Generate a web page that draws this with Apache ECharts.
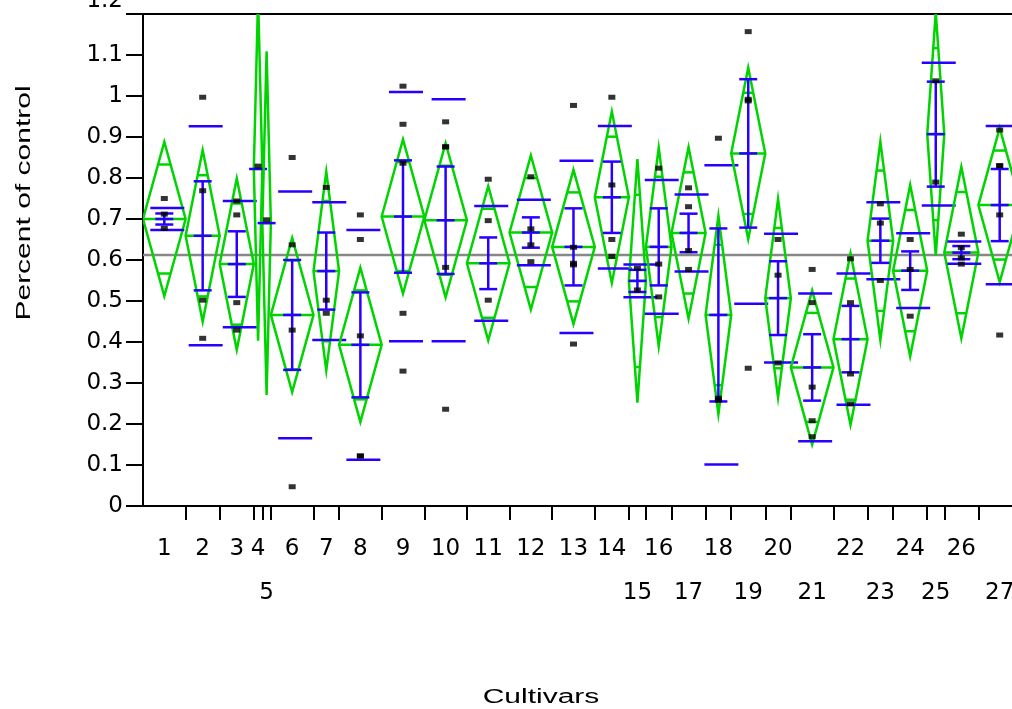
<!DOCTYPE html>
<html>
<head>
<meta charset="UTF-8">
<title>Cultivars</title>
<style>
    html,body{margin:0;padding:0;background:#fff;}
    #chart{width:1012px;height:709px;}
</style>
</head>
<body>
<div id="chart"></div>
<script src="https://cdn.jsdelivr.net/npm/echarts@6/dist/echarts.min.js"></script>
<script>
    // data
    const cultivars = ['1','2','3','4','5','6','7','8','9','10','11','12','13','14','15','16','17','18','19','20','21','22','23','24','25','26','27'];
    const counts = [5,4,4,1,1,5,3,5,5,5,5,5,5,4,2,3,4,3,4,3,5,4,3,4,2,4,5];
    const means = [0.700,0.659,0.590,0.822,0.690,0.466,0.573,0.393,0.706,0.697,0.592,0.667,0.632,0.753,0.549,0.632,0.666,0.466,0.860,0.507,0.338,0.407,0.647,0.574,0.907,0.618,0.734];
    const ciHalf = [0.188,0.209,0.209,0.419,0.419,0.188,0.242,0.188,0.188,0.188,0.188,0.188,0.188,0.209,0.297,0.242,0.209,0.242,0.209,0.242,0.188,0.209,0.242,0.209,0.297,0.209,0.188];
    const sdHalf = [0.027,0.267,0.154,null,null,0.301,0.168,0.280,0.304,0.295,0.140,0.080,0.210,0.174,0.040,0.163,0.094,0.365,0.367,0.157,0.180,0.160,0.094,0.091,0.174,0.027,0.193];
    const seHalf = [0.0135,0.133,0.080,null,null,0.134,0.094,0.128,0.137,0.131,0.063,0.037,0.094,0.087,0.027,0.094,0.047,0.211,0.181,0.090,0.081,0.081,0.054,0.047,0.128,0.016,0.088];
    const points = [
        [0.750,0.712,0.677],
        [0.997,0.769,0.502,0.409],
        [0.744,0.710,0.496,0.429],
        [0.829],
        [0.698],
        [0.850,0.637,0.429,0.047],
        [0.777,0.502,0.470],
        [0.710,0.650,0.415,0.122,0.122],
        [1.024,0.931,0.836,0.470,0.329],
        [0.937,0.876,0.876,0.582,0.236],
        [0.797,0.696,0.502],
        [0.803,0.676,0.637,0.596],
        [0.977,0.631,0.592,0.588,0.395],
        [0.997,0.783,0.650,0.609],
        [0.580,0.527],
        [0.824,0.590,0.510],
        [0.776,0.730,0.623,0.577],
        [0.897,0.263,0.258],
        [1.157,0.992,0.988,0.336],
        [0.650,0.563,0.349],
        [0.577,0.496,0.290,0.208,0.169],
        [0.603,0.496,0.322,0.249],
        [0.737,0.690,0.550],
        [0.650,0.577,0.463],
        [1.037,0.790],
        [0.663,0.630,0.605,0.590],
        [0.917,0.830,0.830,0.710,0.417]
    ];
    const grandMean = 0.612;

    const GREEN = '#00d400', BLUE = '#2800ff', FONT = 'DejaVu Sans';
    const lowerRow = ['5','15','17','19','21','23','25','27'];

    // group extents on the x axis, width follows sample size
    const bounds = [];
    let acc = 0;
    counts.forEach(n => { bounds.push([acc, acc + n]); acc += n; });
    const total = acc;
    const centers = bounds.map(b => (b[0] + b[1]) / 2);

    function renderGroup(params, api){
        const i = params.dataIndex;
        const m = means[i];
        const l = api.coord([bounds[i][0], m]);
        const r = api.coord([bounds[i][1], m]);
        const cx = (l[0] + r[0]) / 2, cy = l[1];
        const yOf = v => api.coord([bounds[i][0], v])[1];
        const k = Math.SQRT1_2;
        const ow = (r[0] - l[0]) / 2 * (1 - k);
        const green = {stroke: GREEN, lineWidth: 2.5, fill: 'none'};
        const blue = {stroke: BLUE, lineWidth: 2.5};
        const seg = (x1, y1, x2, y2, style) => ({type: 'line', shape: {x1, y1, x2, y2}, style});
        const ovU = yOf(m + ciHalf[i] * k), ovD = yOf(m - ciHalf[i] * k);
        const kids = [
            {type: 'polygon', shape: {points: [[l[0], cy], [cx, yOf(m + ciHalf[i])], [r[0], cy], [cx, yOf(m - ciHalf[i])]]}, style: green},
            seg(l[0], cy, r[0], cy, green),
            seg(cx - ow, ovU, cx + ow, ovU, green),
            seg(cx - ow, ovD, cx + ow, ovD, green)
        ];
        if (sdHalf[i] != null) {
            const su = yOf(m + sdHalf[i]), sd = yOf(m - sdHalf[i]);
            kids.push(seg(cx - 14, su, cx + 20, su, blue), seg(cx - 14, sd, cx + 20, sd, blue));
        }
        if (seHalf[i] != null) {
            const eu = yOf(m + seHalf[i]), ed = yOf(m - seHalf[i]);
            kids.push(seg(cx, eu, cx, ed, blue), seg(cx - 9, eu, cx + 9, eu, blue), seg(cx - 9, ed, cx + 9, ed, blue));
        }
        kids.push(seg(cx - 9, cy, cx + 9, cy, blue));
        return {type: 'group', children: kids};
    }

    const pointData = [];
    points.forEach((arr, i) => arr.forEach(v => pointData.push([centers[i], v])));

    const chart = echarts.init(document.getElementById('chart'));
    chart.setOption({
        animation: false,
        grid: {left: 143, top: 14, right: -9, bottom: 203, outerBoundsMode: 'none', containLabel: false,
            show: true, borderColor: '#000', borderWidth: 2},
        xAxis: {
            type: 'value', min: 0, max: total,
            axisLine: {show: true, onZero: false, lineStyle: {color: '#000', width: 2}},
            axisTick: {show: true, length: 14, customValues: bounds.slice(0, -1).map(b => b[1]), lineStyle: {color: '#000', width: 2}},
            axisLabel: {
                customValues: centers, margin: 21, lineHeight: 44,
                fontSize: 23, fontFamily: FONT, color: '#000',
                formatter: v => {
                    let i = 0;
                    centers.forEach((c, j) => { if (Math.abs(c - v) < Math.abs(centers[i] - v)) i = j; });
                    const name = cultivars[i];
                    return lowerRow.indexOf(name) >= 0 ? '\n' + name : name;
                }
            },
            splitLine: {show: false}
        },
        yAxis: {
            type: 'value', min: 0, max: 1.2, interval: 0.1,
            axisLine: {show: true, lineStyle: {color: '#000', width: 2}},
            axisTick: {show: true, length: 17, lineStyle: {color: '#000', width: 2}},
            axisLabel: {
                fontSize: 23, fontFamily: FONT, color: '#000', margin: 20,
                formatter: v => {
                    const s = String(+v.toFixed(1));
                    return v > 1.15 ? '{t|' + s + '}' : s;
                },
                rich: {t: {fontSize: 23, fontFamily: FONT, color: '#000', padding: [0, 0, 26, 0]}}
            },
            splitLine: {show: false}
        },
        graphic: [
            {type: 'text', x: 24, y: 203, rotation: Math.PI / 2, scaleX: 1.5,
                style: {text: 'Percent of control', font: '20px "Liberation Sans"', fill: '#000', align: 'center', verticalAlign: 'middle'}},
            {type: 'text', x: 541, y: 697, scaleX: 1.5,
                style: {text: 'Cultivars', font: '20px "Liberation Sans"', fill: '#000', align: 'center', verticalAlign: 'middle'}}
        ],
        series: [
            {
                type: 'line', silent: true, symbol: 'none', z: 1,
                data: [[0, grandMean], [total, grandMean]],
                lineStyle: {color: '#888888', width: 2.5}
            },
            {
                type: 'custom', silent: true, z: 2, clip: true,
                data: centers.map((c, i) => [c, means[i]]),
                encode: {x: 0, y: 1},
                renderItem: renderGroup
            },
            {
                type: 'scatter', silent: true, z: 3,
                symbol: 'rect', symbolSize: [7, 5],
                itemStyle: {color: '#000'},
                data: pointData
            }
        ]
    });
</script>
</body>
</html>
